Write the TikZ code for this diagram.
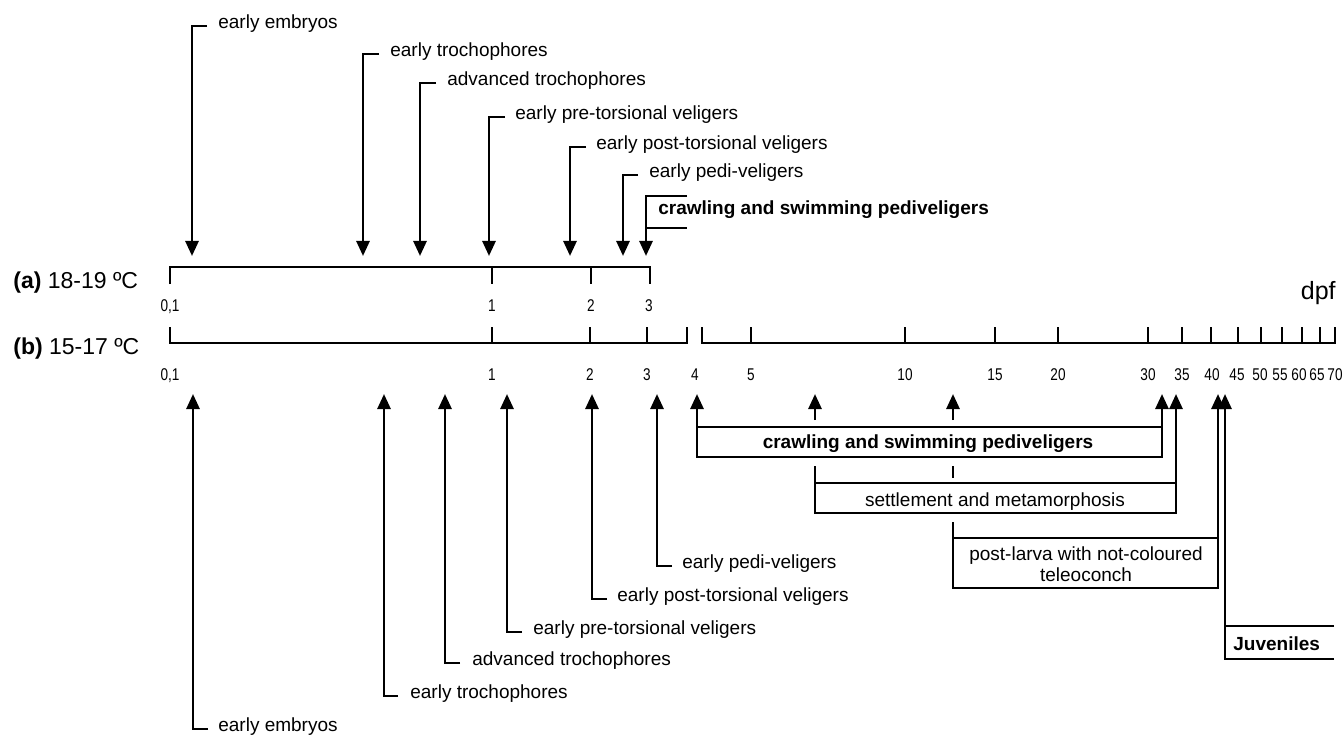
\documentclass[tikz,border=0pt]{standalone}
\usepackage{fontspec}
\setmainfont{Liberation Sans}
\newfontfamily\narrowfont[FakeStretch=0.8]{Liberation Sans}
\usetikzlibrary{arrows.meta}
\begin{document}
\begin{tikzpicture}[x=1pt,y=-1pt,line width=2.7pt,
  lbl/.style={font=\fontsize{19}{22}\selectfont,anchor=mid west,inner sep=0pt},
  blbl/.style={font=\fontsize{19}{22}\selectfont\bfseries,inner sep=0pt},
  boxlbl/.style={font=\fontsize{19}{22}\selectfont,inner sep=0pt,anchor=base},
  ticklbl/.style={font=\narrowfont\fontsize{17}{19}\selectfont,inner sep=0pt,anchor=base},
  axlbl/.style={font=\fontsize{23}{26}\selectfont,inner sep=0pt,anchor=base west},
  arr/.style={-{Triangle[width=13pt,length=15pt]}}]
\useasboundingbox (0,0) rectangle (1344,738);

% ---------- top stages (a) ----------
\foreach \i/\x/\y/\te/\tx/\txt in {
  1/192/26/207/217/early embryos,
  2/363/54/379/389/early trochophores,
  3/420/83/436/446/advanced trochophores,
  4/489/117/505/514/early pre-torsional veligers,
  5/570/147/586/595/early post-torsional veligers,
  6/623/175/638/648/early pedi-veligers}{
  \node[lbl] (ta\i) at (\tx,\y) {\txt};
  \coordinate (tae\i) at (\te,\y);
  \coordinate (tac\i) at (\x,\y);
  \coordinate (tat\i) at (\x,256);
  \draw[arr] (tae\i) -- (tac\i) -- (tat\i);
}
\node[blbl,anchor=mid west] (tcr) at (657,212) {crawling and swimming pediveligers};
\coordinate (tcr1) at (687,196);
\coordinate (tcr2) at (646,196);
\coordinate (tcr3) at (646,256);
\coordinate (tcr4) at (646,228);
\coordinate (tcr5) at (687,228);
\draw[arr] (tcr1) -- (tcr2) -- (tcr3);
\draw (tcr4) -- (tcr5);

% ---------- axis labels ----------
\node[axlbl] (la) at (12,288) {\textbf{(a)} 18-19 ºC};
\node[axlbl] (lb) at (12,354) {\textbf{(b)} 15-17 ºC};
\node[font=\fontsize{25}{28}\selectfont,inner sep=0pt,anchor=base east] (dpf) at (1337,299) {dpf};

% ---------- axis (a) ----------
\draw (170,284) -- (170,267) -- (650,267) -- (650,284);
\foreach \x in {492,591} \draw (\x,267) -- (\x,284);
\foreach \x/\t in {170/{0,1},492/1,591/2,649/3}
  \node[ticklbl] at (\x,311) {\t};

% ---------- axis (b) ----------
\draw (170,327) -- (170,343) -- (687,343) -- (687,327);
\foreach \x in {492,590,647} \draw (\x,343) -- (\x,327);
\draw (702,327) -- (702,343) -- (1335,343) -- (1335,327);
\foreach \x in {751,905,995,1058,1148,1182,1211,1238,1261,1282,1302,1320} \draw (\x,343) -- (\x,327);
\foreach \x/\t in {170/{0,1},492/1,590/2,647/3,695/4,751/5,905/10,995/15,1058/20,1148/30,1182/35,1212/40,1237/45,1260/50,1280/55,1299/60,1317/65,1335/70}
  \node[ticklbl] at (\x,380) {\t};

% ---------- bottom stages (b) ----------
\foreach \i/\x/\y/\te/\tx/\txt in {
  1/193/729/208/217/early embryos,
  2/384/696/398/409/early trochophores,
  3/445/663/460/471/advanced trochophores,
  4/507/632/522/532/early pre-torsional veligers,
  5/592/599/607/616/early post-torsional veligers,
  6/657/566/672/681/early pedi-veligers}{
  \node[lbl] (tb\i) at (\tx,\y) {\txt};
  \coordinate (tbe\i) at (\te,\y);
  \coordinate (tbc\i) at (\x,\y);
  \coordinate (tbt\i) at (\x,394);
  \draw[arr] (tbe\i) -- (tbc\i) -- (tbt\i);
}

% crawling and swimming pediveligers
\draw (697,427) rectangle (1162,457);
\node[blbl,anchor=base] (bcr) at (928,448) {crawling and swimming pediveligers};
\draw[arr] (697,427) -- (697,394);
\draw[arr] (1162,427) -- (1162,394);
\draw[arr] (815,420) -- (815,394);
\draw[arr] (953,420) -- (953,394);

% settlement and metamorphosis
\draw (815,483) -- (1176,483);
\draw[arr] (815,466) -- (815,513) -- (1176,513) -- (1176,394);
\node[boxlbl] (set) at (995,506) {settlement and metamorphosis};
\draw (953,466) -- (953,478);

% post-larva
\draw (953,538) -- (1218,538);
\draw[arr] (953,522) -- (953,588) -- (1218,588) -- (1218,394);
\node[boxlbl] (pl1) at (1086,560) {post-larva with not-coloured};
\node[boxlbl] (pl2) at (1086,581) {teleoconch};

% juveniles
\draw (1334,626) -- (1225,626);
\draw[arr] (1334,659) -- (1225,659) -- (1225,394);
\node[blbl,anchor=base west] (juv) at (1232,650) {Juveniles};
\end{tikzpicture}
\end{document}
